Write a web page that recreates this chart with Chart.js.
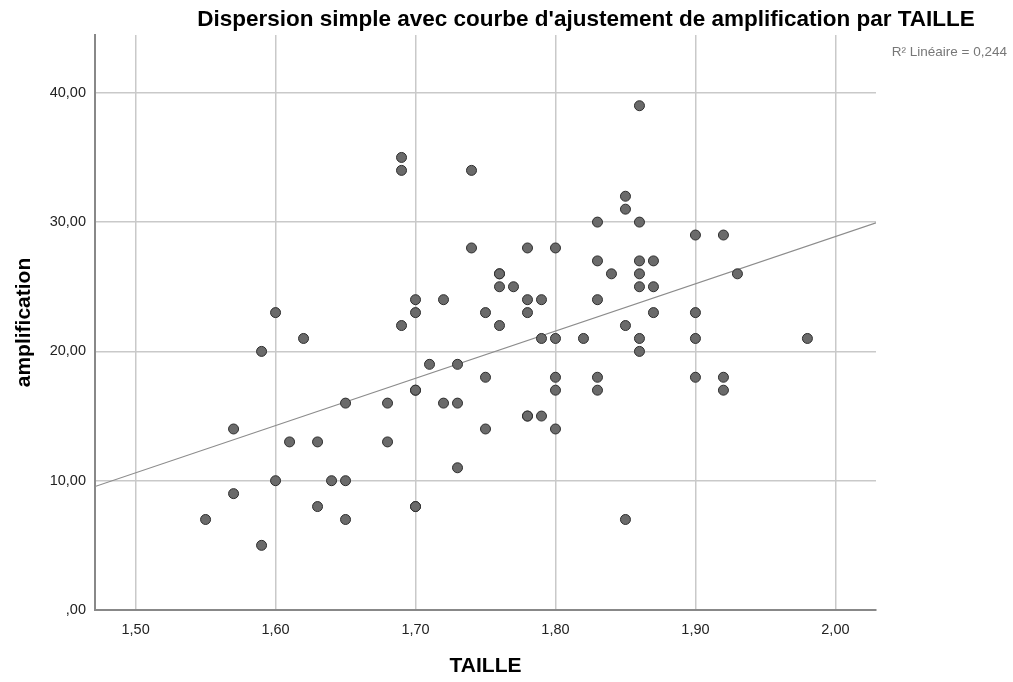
<!DOCTYPE html>
<html>
<head>
<meta charset="utf-8">
<script src="https://cdn.jsdelivr.net/npm/chart.js@4/dist/chart.umd.min.js"></script>
<style>
  body { margin: 0; background: #fff; }
  #wrap { width: 1013px; height: 682px; }
</style>
</head>
<body>
<div id="wrap"><canvas id="scatterChart" width="1013" height="682"></canvas></div>
<script>
// TAILLE (x) and amplification (y)
var taille = [
  1.55, 1.57, 1.57, 1.59, 1.59, 1.60, 1.60, 1.61, 1.62, 1.63, 1.63, 1.64,
  1.65, 1.65, 1.65, 1.68, 1.68, 1.69, 1.69, 1.69, 1.70, 1.70, 1.70, 1.70,
  1.70, 1.70, 1.71, 1.72, 1.72, 1.73, 1.73, 1.73, 1.74, 1.74, 1.75, 1.75,
  1.75, 1.76, 1.76, 1.76, 1.76, 1.77, 1.78, 1.78, 1.78, 1.78, 1.78, 1.79,
  1.79, 1.79, 1.80, 1.80, 1.80, 1.80, 1.80, 1.82, 1.83, 1.83, 1.83, 1.83,
  1.83, 1.84, 1.85, 1.85, 1.85, 1.85, 1.86, 1.86, 1.86, 1.86, 1.86, 1.86,
  1.86, 1.87, 1.87, 1.87, 1.90, 1.90, 1.90, 1.90, 1.92, 1.92, 1.92, 1.93,
  1.98
];
var amplification = [
  7, 14, 9, 20, 5, 23, 10, 13, 21, 13, 8, 10,
  16, 10, 7, 16, 13, 35, 34, 22, 24, 23, 17, 17,
  8, 8, 19, 24, 16, 19, 16, 11, 34, 28, 23, 18,
  14, 26, 26, 25, 22, 25, 28, 24, 23, 15, 15, 24,
  21, 15, 28, 21, 18, 17, 14, 21, 30, 27, 24, 18,
  17, 26, 32, 31, 22, 7, 39, 30, 27, 26, 25, 21,
  20, 27, 25, 23, 29, 23, 21, 18, 29, 18, 17, 26,
  21
];

// fit line ends as drawn (R2 lineaire = 0,244)
var fitX = [1.471, 2.029];
var fitY = [9.55, 29.95];

var xTicks = [1.5, 1.6, 1.7, 1.8, 1.9, 2.0];
var yTicks = [0, 10, 20, 30, 40];

var titleText = "Dispersion simple avec courbe d'ajustement de amplification par TAILLE";
var r2Text = "R\u00b2 Lin\u00e9aire = 0,244";

var points = taille.map(function (t, i) {
  return { x: t, y: amplification[i] };
});
var fitPoints = fitX.map(function (t, i) {
  return { x: t, y: fitY[i] };
});

function frNum(v) {
  var s = v.toFixed(2).replace(".", ",");
  if (s.indexOf("0,") === 0) s = s.substring(1);
  return s;
}

var textPlugin = {
  id: "texts",
  afterDraw: function (chart) {
    var c = chart.ctx;
    c.save();
    c.fillStyle = "#000";
    c.font = "bold 22.5px 'Liberation Sans', Arial, sans-serif";
    c.textAlign = "center";
    c.textBaseline = "middle";
    c.fillText(titleText, 586, 20);
    c.fillStyle = "#777";
    c.font = "13.5px 'Liberation Sans', Arial, sans-serif";
    c.textAlign = "right";
    c.fillText(r2Text, 1007, 52);
    c.restore();
  }
};

var ctx = document.getElementById("scatterChart").getContext("2d");
var myChart = new Chart(ctx, {
  type: "scatter",
  data: {
    datasets: [
      {
        label: "Ajustement",
        type: "line",
        data: fitPoints,
        borderColor: "#8c8c8c",
        borderWidth: 1.2,
        pointRadius: 0,
        fill: false,
        order: 2
      },
      {
        label: "amplification",
        data: points,
        backgroundColor: "#6a6a6a",
        borderColor: "#2e2e2e",
        borderWidth: 1,
        pointRadius: 5,
        order: 1
      }
    ]
  },
  options: {
    responsive: false,
    animation: false,
    layout: { padding: { top: 35, right: 137, left: 0, bottom: 0 } },
    plugins: {
      legend: { display: false },
      tooltip: { enabled: false }
    },
    scales: {
      x: {
        type: "linear",
        min: 1.471,
        max: 2.029,
        afterFit: function (s) { s.height = 72; },
        afterBuildTicks: function (s) {
          s.ticks = xTicks.map(function (v) { return { value: v }; });
        },
        ticks: {
          color: "#222",
          padding: 11,
          font: { family: "'Liberation Sans', Arial", size: 14.5 },
          callback: function (v) { return frNum(v); }
        },
        grid: { color: "#c9c9c9", lineWidth: 1.5, drawTicks: false },
        border: { color: "#888", width: 2 },
        title: {
          display: true,
          text: "TAILLE",
          color: "#000",
          font: { family: "'Liberation Sans', Arial", size: 21, weight: "bold" },
          padding: { top: 4, bottom: 3 }
        }
      },
      y: {
        type: "linear",
        min: 0,
        max: 44.47,
        afterFit: function (s) { s.width = 95; },
        afterBuildTicks: function (s) {
          s.ticks = yTicks.map(function (v) { return { value: v }; });
        },
        ticks: {
          color: "#222",
          padding: 9,
          font: { family: "'Liberation Sans', Arial", size: 14.5 },
          callback: function (v) { return frNum(v); }
        },
        grid: { color: "#c9c9c9", lineWidth: 1.5, drawTicks: false },
        border: { color: "#888", width: 2 },
        title: {
          display: true,
          text: "amplification",
          color: "#000",
          font: { family: "'Liberation Sans', Arial", size: 21, weight: "bold" },
          padding: { top: 12, bottom: 4 }
        }
      }
    }
  },
  plugins: [textPlugin]
});
</script>
</body>
</html>
